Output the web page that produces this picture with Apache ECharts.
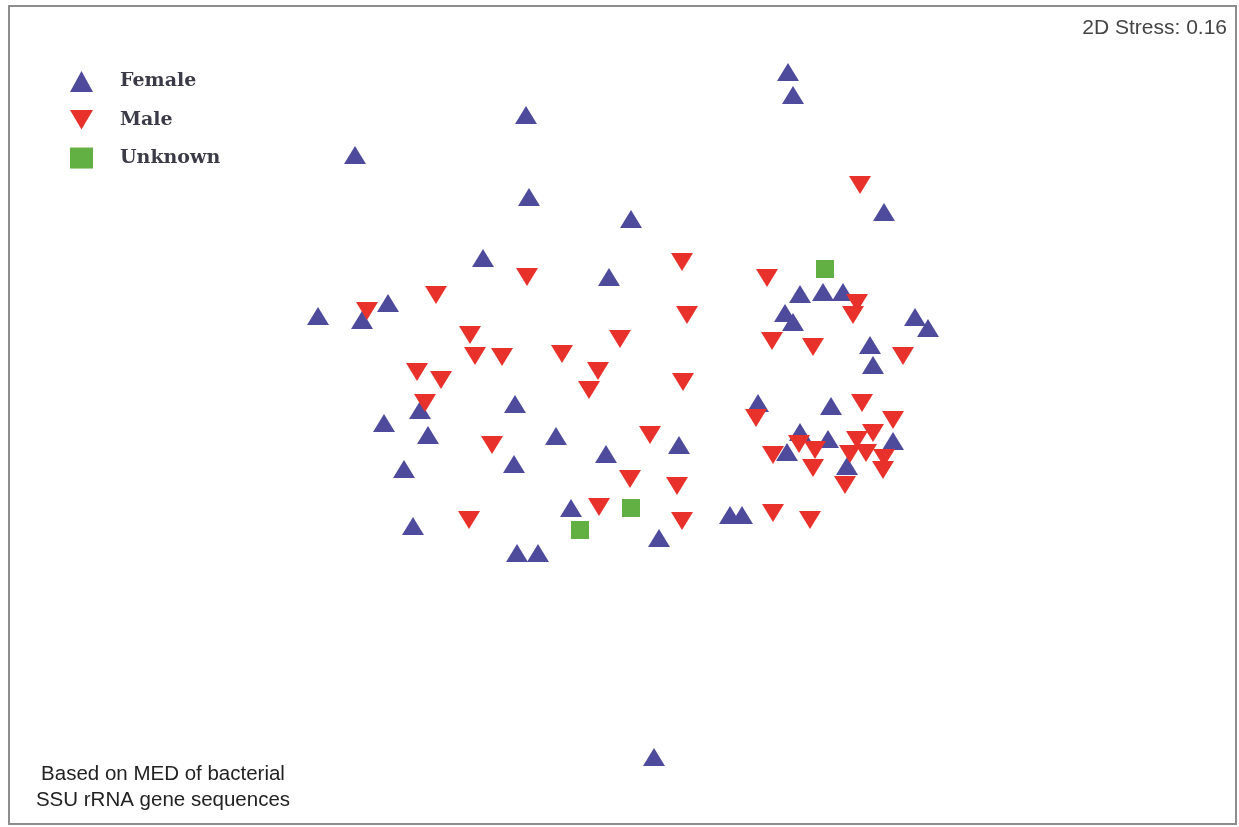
<!DOCTYPE html>
<html>
<head>
<meta charset="utf-8">
<title>nMDS ordination by sex</title>
<script src="https://cdn.jsdelivr.net/npm/echarts@6/dist/echarts.min.js"></script>
<style>
  html, body { margin: 0; padding: 0; background: #fff; }
  #chart { width: 1239px; height: 827px; }
</style>
</head>
<body>
<div id="chart"></div>
<script>
// nMDS coordinates [MDS1, MDS2] per sample, grouped by host sex
const female = [
  [0.84, 1.71], [0.865, 1.595], [-0.47, 1.495], [-1.325, 1.295], [-0.455, 1.085],
  [0.055, 0.975], [1.32, 1.01], [-0.685, 0.78], [-0.055, 0.685], [-1.51, 0.49],
  [-1.29, 0.47], [-1.16, 0.555], [0.9, 0.6], [1.015, 0.61], [1.115, 0.61],
  [0.825, 0.505], [0.865, 0.46], [1.475, 0.485], [1.54, 0.43], [1.25, 0.345],
  [1.265, 0.245], [-1.0, 0.02], [-0.525, 0.05], [-1.18, -0.045], [-0.96, -0.105],
  [-0.32, -0.11], [-1.08, -0.275], [-0.53, -0.25], [-0.07, -0.2], [0.295, -0.155],
  [0.69, 0.055], [1.055, 0.04], [0.9, -0.09], [1.04, -0.125], [0.835, -0.19],
  [1.365, -0.135], [1.135, -0.26], [-0.245, -0.47], [-1.035, -0.56], [-0.515, -0.695],
  [-0.41, -0.695], [0.195, -0.62], [0.55, -0.505], [0.61, -0.505], [0.17, -1.715]
];
const male = [
  [1.2, 1.145], [-0.465, 0.685], [0.31, 0.76], [0.735, 0.68], [-0.92, 0.595],
  [-1.265, 0.515], [0.335, 0.495], [1.185, 0.555], [1.165, 0.495], [-0.75, 0.395],
  [-0.725, 0.29], [-0.59, 0.285], [-0.29, 0.3], [0.0, 0.375], [0.76, 0.365],
  [0.965, 0.335], [1.415, 0.29], [-1.015, 0.21], [-0.895, 0.17], [-0.11, 0.215],
  [-0.155, 0.12], [0.315, 0.16], [-0.975, 0.055], [0.68, -0.02], [1.21, 0.055],
  [1.365, -0.03], [-0.64, -0.155], [0.15, -0.105], [0.05, -0.325], [0.285, -0.36],
  [0.765, -0.205], [0.895, -0.15], [0.975, -0.18], [0.965, -0.27], [1.125, -0.355],
  [1.185, -0.13], [1.265, -0.095], [1.15, -0.2], [1.23, -0.195], [1.32, -0.22],
  [1.315, -0.28], [-0.105, -0.465], [-0.755, -0.53], [0.31, -0.535], [0.765, -0.495],
  [0.95, -0.53]
];
const unknown = [
  [1.025, 0.725], [0.055, -0.47], [-0.2, -0.58]
];

const groupNames = ['Female', 'Male', 'Unknown'];
const stressLabel = '2D Stress: 0.16';
const noteLines = ['Based on MED of bacterial', 'SSU rRNA gene sequences'];

const colors = { Female: '#4e4a9c', Male: '#e8312a', Unknown: '#62b043' };
const downTriangle = 'path://M0,0 L20,0 L10,17 Z';

const chart = echarts.init(document.getElementById('chart'), null, { renderer: 'canvas' });

chart.setOption({
  animation: false,
  backgroundColor: '#ffffff',
  grid: {
    left: 9, top: 6, width: 1227, height: 818,
    show: true, borderColor: '#8c8c8c', borderWidth: 2, backgroundColor: 'transparent'
  },
  xAxis: {
    type: 'value', min: -3.055, max: 3.08,
    show: false
  },
  yAxis: {
    type: 'value', min: -2.05, max: 2.04,
    show: false
  },
  legend: {
    orient: 'vertical',
    left: 65, top: 66,
    itemWidth: 23, itemHeight: 21,
    itemGap: 18,
    data: [
      { name: groupNames[0], icon: 'triangle' },
      { name: groupNames[1], icon: downTriangle },
      { name: groupNames[2], icon: 'rect' }
    ],
    textStyle: {
      fontFamily: 'DejaVu Serif', fontWeight: 'bold', fontSize: 19,
      color: '#3b3b48', padding: [0, 0, 0, 22]
    },
    selectedMode: false
  },
  title: [
    {
      text: stressLabel, right: 7, top: 13,
      textStyle: { fontFamily: 'Liberation Sans', fontWeight: 'normal', fontSize: 21, color: '#444' }
    },
    {
      text: noteLines.join('\n'), left: 158, top: 756, textAlign: 'center',
      textStyle: { fontFamily: 'Liberation Sans', fontWeight: 'normal', fontSize: 20.5, lineHeight: 26, color: '#222' }
    }
  ],
  series: [
    {
      name: groupNames[0], type: 'scatter', data: female,
      symbol: 'triangle', symbolSize: [22, 18],
      itemStyle: { color: colors.Female, opacity: 1 }
    },
    {
      name: groupNames[1], type: 'scatter', data: male,
      symbol: downTriangle, symbolSize: [22, 18],
      itemStyle: { color: colors.Male, opacity: 1 }
    },
    {
      name: groupNames[2], type: 'scatter', data: unknown,
      symbol: 'rect', symbolSize: [18, 18],
      itemStyle: { color: colors.Unknown, opacity: 1 }
    }
  ]
});
</script>
</body>
</html>
